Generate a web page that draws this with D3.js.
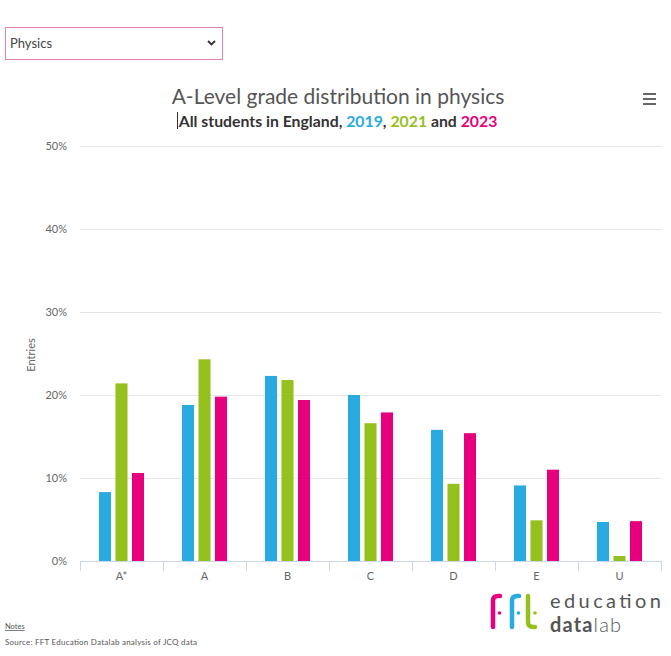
<!DOCTYPE html>
<html><head><meta charset="utf-8">
<script src="https://cdn.jsdelivr.net/npm/d3@7"></script>
<style>body{margin:0;background:#fff}svg{display:block;font-family:Lato,"Open Sans",sans-serif}</style>
</head><body>
<svg id="c" width="671" height="656"></svg>
<script>
const grades = ["A*","A","B","C","D","E","U"];
const years = ["2019","2021","2023"];
const v2019 = [8.3,18.8,22.3,20.0,15.8,9.1,4.7];
const v2021 = [21.4,24.3,21.8,16.6,9.3,4.9,0.6];
const v2023 = [10.6,19.8,19.4,17.9,15.4,11.0,4.8];
const yTicks = [0,10,20,30,40,50];
const colors = ["#29abe2","#95c11f","#e6007e"];
const series = [v2019,v2021,v2023];

const svg = d3.select("#c");
const x = d3.scaleBand().domain(grades).range([80,661]);
const xi = d3.scaleBand().domain(years).range([0,x.bandwidth()]).paddingInner(0.27).paddingOuter(1.15);
const y = d3.scaleLinear().domain([0,50]).range([561,146]);

// dropdown
svg.append("rect").attr("x",5.5).attr("y",27.5).attr("width",217).attr("height",32).attr("fill","#fff").attr("stroke","#e77fbb").attr("stroke-width",1);
svg.append("text").attr("x",10).attr("y",48).attr("font-size",13).attr("fill","#444").text("Physics");
svg.append("path").attr("d","M208,41 L211.5,44.5 L215,41").attr("fill","none").attr("stroke","#333").attr("stroke-width",1.8);

// title
svg.append("text").attr("x",338).attr("y",104).attr("text-anchor","middle").attr("font-size",21).attr("fill","#555").text("A-Level grade distribution in physics");
const st = svg.append("text").attr("x",338).attr("y",127).attr("text-anchor","middle").attr("font-size",15.8).attr("font-weight","bold").attr("fill","#333");
st.append("tspan").text("All students in England, ");
st.append("tspan").attr("fill",colors[0]).text("2019");
st.append("tspan").text(", ");
st.append("tspan").attr("fill",colors[1]).text("2021");
st.append("tspan").text(" and ");
st.append("tspan").attr("fill",colors[2]).text("2023");
svg.append("line").attr("x1",177.5).attr("x2",177.5).attr("y1",112).attr("y2",129).attr("stroke","#333").attr("stroke-width",1);

// hamburger
[94,99,104].forEach(yy=>svg.append("rect").attr("x",643).attr("y",yy-1).attr("width",13).attr("height",2).attr("fill","#666"));

// gridlines
svg.append("g").selectAll("line").data(yTicks.slice(1)).join("line")
  .attr("x1",80).attr("x2",661).attr("y1",d=>Math.round(y(d))+0.5).attr("y2",d=>Math.round(y(d))+0.5)
  .attr("stroke","#e6e6e6");
svg.append("g").selectAll("text").data(yTicks).join("text")
  .attr("x",67).attr("y",d=>y(d)+4).attr("text-anchor","end").attr("font-size",11).attr("fill","#666").text(d=>d+"%");
svg.append("text").attr("transform","translate(35,355) rotate(-90)").attr("text-anchor","middle").attr("font-size",11).attr("fill","#666").text("Entries");

// bars
series.forEach((s,i)=>{
  svg.append("g").selectAll("rect").data(s).join("rect")
    .attr("x",(d,j)=>x(grades[j])+xi(years[i])).attr("width",xi.bandwidth())
    .attr("y",d=>y(d)).attr("height",d=>y(0)-y(d)).attr("fill",colors[i]);
});

// x axis
const xa = svg.append("g").attr("transform","translate(0,561)");
xa.append("line").attr("x1",80).attr("x2",661).attr("y1",0.5).attr("y2",0.5).attr("stroke","#ccd6eb");
const bounds = grades.map(g=>x(g)).concat([x.range()[1]]);
xa.selectAll("line.t").data(bounds).join("line").attr("class","t")
  .attr("x1",d=>Math.round(d)+0.5).attr("x2",d=>Math.round(d)+0.5).attr("y1",0).attr("y2",10).attr("stroke","#ccd6eb");
xa.selectAll("text").data(grades).join("text")
  .attr("x",d=>x(d)+x.bandwidth()/2).attr("y",19).attr("text-anchor","middle").attr("font-size",11).attr("fill","#666").text(d=>d);

// footer
svg.append("text").attr("x",5).attr("y",629).attr("font-size",7.5).attr("fill","#555").attr("text-decoration","underline").text("Notes");
svg.append("text").attr("x",5).attr("y",645).attr("font-size",8).attr("fill","#555").attr("textLength",192).attr("lengthAdjust","spacing").text("Source: FFT Education Datalab analysis of JCQ data");

// logo
const lg = svg.append("g").attr("fill","none").attr("stroke-width",4.5).attr("stroke-linecap","round");
lg.append("path").attr("d","M493,627 L493,601 Q493,596 498,596 L500,596").attr("stroke","#e6007e");
lg.append("circle").attr("cx",499.5).attr("cy",613).attr("r",1.8).attr("fill","#e6007e").attr("stroke","none");
lg.append("path").attr("d","M512,627 L512,601 Q512,596 517,596 L519,596").attr("stroke","#29abe2");
lg.append("circle").attr("cx",518.5).attr("cy",613).attr("r",1.8).attr("fill","#29abe2").attr("stroke","none");
lg.append("path").attr("d","M528,596 L528,622 Q528,627 533,627 L535,627").attr("stroke","#95c11f");
lg.append("circle").attr("cx",535).attr("cy",613).attr("r",1.8).attr("fill","#95c11f").attr("stroke","none");
svg.append("text").attr("x",550).attr("y",608).attr("font-size",20).attr("fill","#555").attr("textLength",111).attr("lengthAdjust","spacing").text("education");
const dl = svg.append("text").attr("x",550).attr("y",632).attr("font-size",20).attr("fill","#555").attr("textLength",71).attr("lengthAdjust","spacing");
dl.append("tspan").attr("font-weight","bold").text("data");
dl.append("tspan").attr("font-weight","300").text("lab");
</script>
</body></html>
